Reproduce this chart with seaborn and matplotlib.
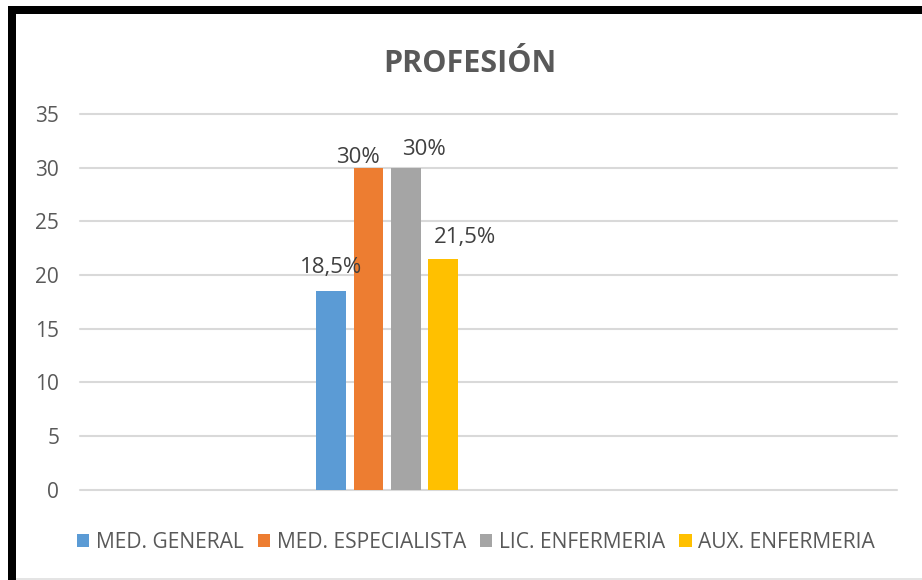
import matplotlib
matplotlib.use("Agg")
import matplotlib.pyplot as plt
from matplotlib.patches import Rectangle
import pandas as pd
import seaborn as sns

# Datos del gráfico
categorias = ["MED. GENERAL", "MED. ESPECIALISTA", "LIC. ENFERMERIA", "AUX. ENFERMERIA"]
valores = [18.5, 30, 30, 21.5]
colores = ["#5B9BD5", "#ED7D31", "#A5A5A5", "#FFC000"]
ticks_y = [0, 5, 10, 15, 20, 25, 30, 35]
titulo = "PROFESIÓN"

# Desplazamiento de cada etiqueta de dato respecto a la parte superior de su barra (puntos)
desplazamientos = [(0, 13), (-7.5, 3.6), (13, 9.4), (16, 11.5)]

sns.set_theme(style="white")
plt.rcParams["font.family"] = ["Open Sans", "DejaVu Sans"]

W, H = 922, 580
fig = plt.figure(figsize=(W / 100, H / 100), dpi=100)
fig.patch.set_facecolor("white")

# Área de trazado (en píxeles)
x0, x1 = 80, 897
y_top, y_zero = 114, 489.5
ax = fig.add_axes([x0 / W, (H - y_zero) / H, (x1 - x0) / W, (y_zero - y_top) / H])

df = pd.DataFrame({"grupo": [""] * len(categorias), "profesion": categorias, "valor": valores})
sns.barplot(data=df, x="grupo", y="valor", hue="profesion", hue_order=categorias,
            palette=colores, width=1.0, gap=0.2, saturation=1, ax=ax, legend=True,
            edgecolor="none")

ax.set_ylim(0, 35)
ax.set_yticks(ticks_y)
ax.set_xlim(-2.06, 3.42)
ax.set_xlabel("")
ax.set_ylabel("")
ax.set_xticks([])
for s in ax.spines.values():
    s.set_visible(False)

ax.set_axisbelow(True)
ax.grid(axis="y", color="#D9D9D9", linewidth=1.5)
ax.grid(axis="x", visible=False)
for gl in ax.get_ygridlines():
    gl.set_clip_on(False)
ax.tick_params(axis="y", length=0, pad=15, labelsize=15, labelcolor="#595959")

# Etiquetas de datos
for cont, v, (dx, dy) in zip(ax.containers, valores, desplazamientos):
    bar = cont.patches[0]
    texto = f"{v:g}".replace(".", ",") + "%"
    ax.annotate(texto, xy=(bar.get_x() + bar.get_width() / 2, bar.get_height()),
                xytext=(dx, dy), textcoords="offset points", ha="center", va="baseline",
                fontsize=16, color="#404040")

# Leyenda inferior
handles, labels = ax.get_legend_handles_labels()
ax.get_legend().remove()
fig.legend(handles, labels, loc="center", bbox_to_anchor=(476 / W, 1 - 542 / H),
           ncol=4, frameon=False, fontsize=15.1, labelcolor="#595959",
           handlelength=0.58, handleheight=0.58, handletextpad=0.33,
           columnspacing=0.67, borderaxespad=0)

# Título
fig.text(470 / W, 1 - 72 / H, titulo, ha="center", va="baseline",
         fontsize=22, fontweight="bold", color="#595959")

# Marco del gráfico
def px_rect(x, y, w, h, color):
    fig.patches.append(Rectangle((x / W, 1 - (y + h) / H), w / W, h / H,
                                 transform=fig.transFigure, facecolor=color,
                                 edgecolor="none", zorder=10))

px_rect(8, 6, W - 8, 8, "black")
px_rect(8, 6, 8, H - 6, "black")
px_rect(16, 578, W - 16, 2, "#E4E4E4")

fig.savefig("out.png", dpi=100, facecolor="white")
